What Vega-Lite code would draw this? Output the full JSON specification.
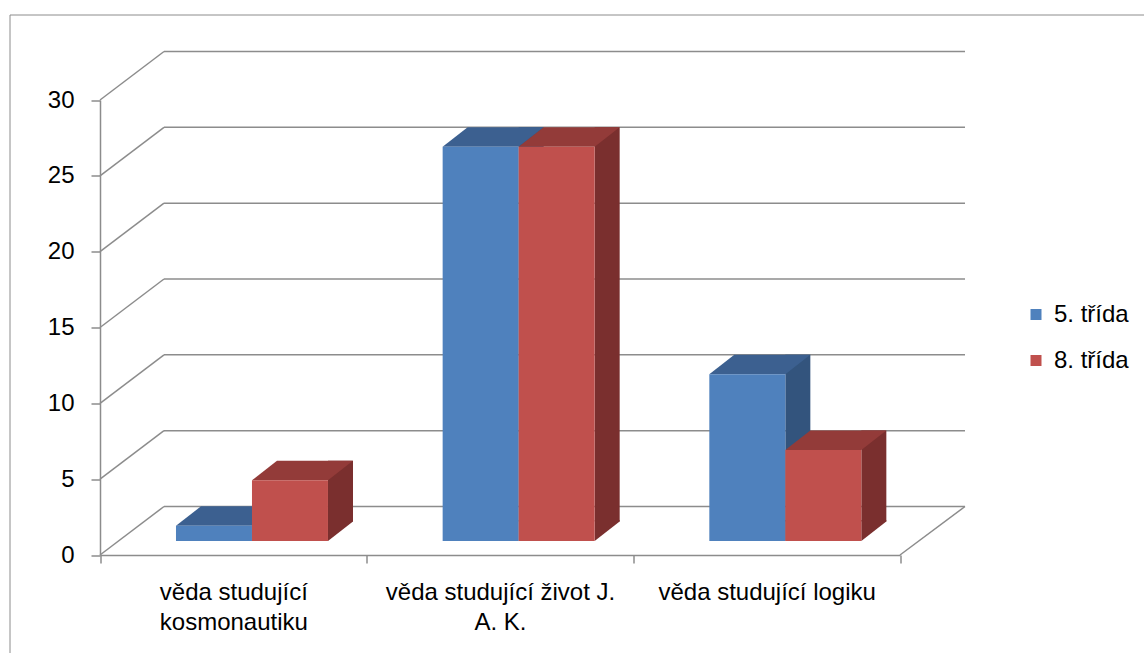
{
  "$schema": "https://vega.github.io/schema/vega-lite/v6.json",
  "width": 1134.5,
  "height": 638.5,
  "autosize": {"type": "none"},
  "padding": {"left": 9.5, "top": 14.5, "right": 0, "bottom": 0},
  "background": "white",
  "datasets": {
    "main": [
      {"cat": "věda studující kosmonautiku", "s": "5. třída", "value": 1},
      {"cat": "věda studující kosmonautiku", "s": "8. třída", "value": 4},
      {"cat": "věda studující život J. A. K.", "s": "5. třída", "value": 26},
      {"cat": "věda studující život J. A. K.", "s": "8. třída", "value": 26},
      {"cat": "věda studující logiku", "s": "5. třída", "value": 11},
      {"cat": "věda studující logiku", "s": "8. třída", "value": 6}
    ],
    "grid": [
      {"value": 0}, {"value": 5}, {"value": 10}, {"value": 15}, {"value": 20}, {"value": 25}, {"value": 30}
    ]
  },
  "config": {
    "view": {"stroke": "#8c8c8c", "strokeWidth": 1},
    "font": "Liberation Sans",
    "axis": {
      "labelFont": "Liberation Sans",
      "labelFontSize": 24,
      "labelColor": "#000000",
      "labelLimit": 0,
      "domainColor": "#8c8c8c",
      "tickColor": "#8c8c8c",
      "domainWidth": 1.5,
      "tickWidth": 1.5,
      "grid": false,
      "title": null
    },
    "axisY": {"offset": -90.5, "tickSize": 9, "labelPadding": 17, "tickCount": 6},
    "axisX": {
      "offset": -98,
      "tickSize": 8,
      "tickBand": "extent",
      "labelAngle": 0,
      "labelPadding": 17,
      "labelLineHeight": 30,
      "labelBaseline": "top",
      "labelExpr": "datum.value == 'věda studující kosmonautiku' ? ['věda studující', 'kosmonautiku'] : datum.value == 'věda studující život J. A. K.' ? ['věda studující život J.', 'A. K.'] : datum.value"
    }
  },
  "resolve": {"scale": {"color": "independent"}},
  "layer": [
    {
      "data": {"name": "grid"},
      "mark": {"type": "rule", "color": "#8c8c8c", "strokeWidth": 1.5, "xOffset": 64, "x2Offset": 65, "yOffset": -48.5},
      "encoding": {
        "x": {"datum": "věda studující kosmonautiku", "bandPosition": 0},
        "x2": {"datum": "věda studující logiku", "bandPosition": 1},
        "y": {"field": "value", "type": "quantitative", "title": null}
      }
    },
    {
      "data": {"name": "grid"},
      "mark": {"type": "rule", "color": "#8c8c8c", "strokeWidth": 1.5, "x2Offset": 64, "y2Offset": -48.5},
      "encoding": {
        "x": {"datum": "věda studující kosmonautiku", "bandPosition": 0},
        "x2": {"datum": "věda studující kosmonautiku", "bandPosition": 0},
        "y": {"field": "value", "type": "quantitative", "title": null},
        "y2": {"field": "value"}
      }
    },
    {
      "data": {"name": "grid"},
      "transform": [{"filter": "datum.value == 0"}],
      "mark": {"type": "rule", "color": "#8c8c8c", "strokeWidth": 1.5, "x2Offset": 65, "y2Offset": -48.5},
      "encoding": {
        "x": {"datum": "věda studující logiku", "bandPosition": 1},
        "x2": {"datum": "věda studující logiku", "bandPosition": 1},
        "y": {"field": "value", "type": "quantitative", "title": null},
        "y2": {"field": "value"}
      }
    },
    {
      "data": {"name": "main"},
      "transform": [{"filter": "datum.s == '5. třída'"}],
      "mark": {"type": "bar", "width": 25, "xOffset": 31.17, "yOffset": -33.5, "y2Offset": -33.5, "color": "#33547D"},
      "encoding": {
        "x": {"field": "cat", "type": "nominal", "title": null},
        "y": {"field": "value", "type": "quantitative", "title": null}
      }
    },
    {
      "data": {"name": "main"},
      "transform": [{"filter": "datum.s == '8. třída'"}],
      "mark": {"type": "bar", "width": 25, "xOffset": 107.17, "yOffset": -33.5, "y2Offset": -33.5, "color": "#7A2F2E"},
      "encoding": {
        "x": {"field": "cat", "type": "nominal", "title": null},
        "y": {"field": "value", "type": "quantitative", "title": null}
      }
    },
    {
      "data": {"name": "main"},
      "mark": {"type": "point", "filled": true, "opacity": 1, "strokeWidth": 0, "size": 16384, "yOffset": -14,
        "shape": "M0.594,0L0.594,-0.33L0.984,-0.33L0.984,-0.305Z"},
      "encoding": {
        "x": {"field": "cat", "type": "nominal", "title": null},
        "xOffset": {"field": "s", "type": "nominal"},
        "y": {"datum": 0},
        "color": {"field": "s", "type": "nominal", "legend": null,
          "scale": {"domain": ["5. třída", "8. třída"], "range": ["#33547D", "#7A2F2E"]}}
      }
    },
    {
      "data": {"name": "main"},
      "mark": {"type": "point", "filled": true, "opacity": 1, "strokeWidth": 0, "size": 16384, "yOffset": -14,
        "shape": "M-0.594,0L0.594,0L0.984,-0.305L-0.203,-0.305Z"},
      "encoding": {
        "x": {"field": "cat", "type": "nominal", "title": null},
        "xOffset": {"field": "s", "type": "nominal"},
        "y": {"field": "value", "type": "quantitative", "title": null},
        "color": {"field": "s", "type": "nominal", "legend": null,
          "scale": {"domain": ["5. třída", "8. třída"], "range": ["#3C6090", "#933B39"]}}
      }
    },
    {
      "data": {"name": "main"},
      "mark": {"type": "bar", "yOffset": -14, "y2Offset": -14},
      "encoding": {
        "x": {"field": "cat", "type": "nominal", "title": null,
          "scale": {"domain": ["věda studující kosmonautiku", "věda studující život J. A. K.", "věda studující logiku"],
            "range": [90.5, 890.5], "paddingInner": 0, "paddingOuter": 0}},
        "xOffset": {"field": "s", "type": "nominal",
          "scale": {"domain": ["5. třída", "8. třída"], "paddingInner": 0, "paddingOuter": 0.7545, "align": 0.6626}},
        "y": {"field": "value", "type": "quantitative", "title": null,
          "scale": {"domain": [0, 30], "range": [540.5, 85.5], "nice": false, "zero": true}},
        "color": {"field": "s", "type": "nominal",
          "scale": {"domain": ["5. třída", "8. třída"], "range": ["#4F81BD", "#C0504D"]},
          "legend": {"orient": "none", "legendX": 1014.5, "legendY": 288, "title": null,
            "symbolType": "square", "symbolSize": 121, "symbolStrokeWidth": 0, "symbolOpacity": 1,
            "labelFont": "Liberation Sans", "labelFontSize": 24, "labelColor": "#000000",
            "rowPadding": 22, "labelOffset": 6, "padding": 0}}
      }
    }
  ]
}
